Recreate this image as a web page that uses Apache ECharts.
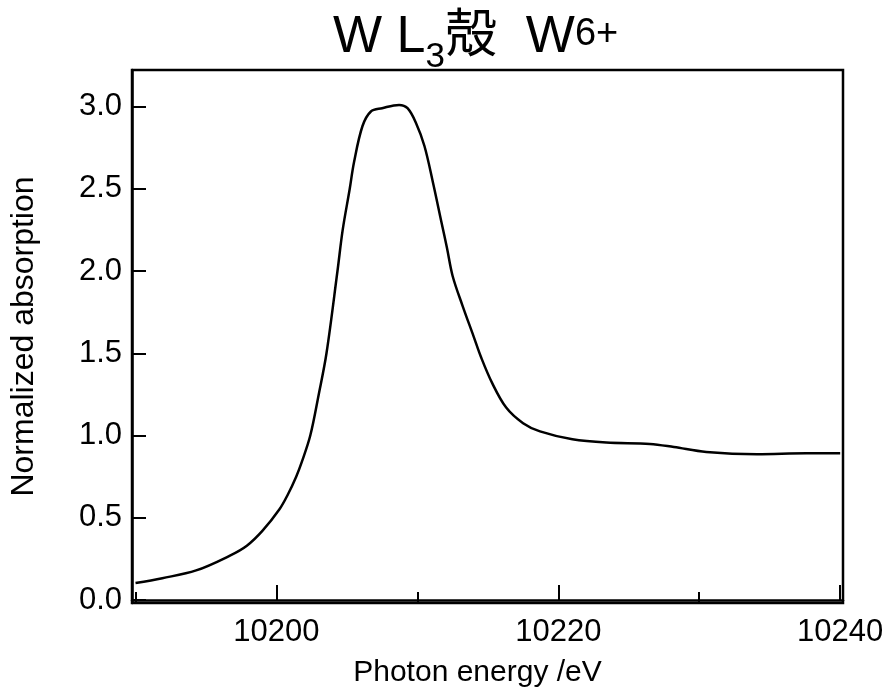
<!DOCTYPE html>
<html><head><meta charset="utf-8">
<script src="https://cdn.jsdelivr.net/npm/echarts@6/dist/echarts.min.js"></script>
<style>html,body{margin:0;padding:0;background:#fff}#c{width:889px;height:693px}</style>
</head><body><div id="c"></div>
<script>
const energy = [10190.0,10191.9,10194.3,10196.7,10197.9,10199.0,10200.2,10200.8,10201.4,10201.8,10202.4,10203.0,10203.55,10204.33,10204.7,10205.2,10205.5,10206.1,10206.7,10207.5,10208.7,10209.3,10209.9,10210.5,10211.1,10211.7,10212.1,10212.5,10213.2,10214.0,10214.5,10215.3,10216.3,10217.5,10218.7,10221.0,10223.4,10226.5,10228.2,10230.5,10234.1,10237.6,10240.0];
const absorption = [0.103,0.133,0.18,0.27,0.33,0.42,0.55,0.64,0.75,0.84,1.0,1.25,1.5,2.0,2.25,2.5,2.66,2.88,2.97,2.99,3.01,2.99,2.90,2.76,2.54,2.30,2.14,1.97,1.79,1.60,1.48,1.32,1.17,1.075,1.025,0.977,0.957,0.949,0.93,0.90,0.886,0.892,0.892];
const xMajorTicks = [10200,10220,10240];
const xMinorTicks = [10190,10210,10230];
const yTicks = [0,0.5,1.0,1.5,2.0,2.5,3.0];

const FONT = '"Liberation Sans", Arial, "Noto Sans CJK JP", sans-serif';
const chart = echarts.init(document.getElementById('c'), null, {renderer:'canvas'});
const xBase = {type:'value', min:10189.75, max:10240.2, position:'bottom', splitLine:{show:false}};
chart.setOption({
  animation:false,
  backgroundColor:'#fff',
  title:{
    left:328, top:3,
    text:'{a|W L}{sub|3}{a|殻  W}{sup|6+}',
    textStyle:{
      rich:{
        a:{fontFamily:FONT, fontSize:52, fontWeight:'normal', color:'#000', lineHeight:60},
        sub:{fontFamily:FONT, fontSize:35, fontWeight:'normal', color:'#000', padding:[38,0,0,0], lineHeight:35},
        sup:{fontFamily:FONT, fontSize:38, fontWeight:'normal', color:'#000', padding:[0,0,6,0], lineHeight:38}
      }
    }
  },
  grid:{left:132, right:46, top:70, bottom:88, show:true, borderColor:'#000', borderWidth:2.5, containLabel:false},
  xAxis:[
    Object.assign({}, xBase, {
      name:'Photon energy /eV', nameLocation:'middle', nameGap:55,
      nameTextStyle:{fontFamily:FONT, fontSize:30, color:'#000', padding:[0,20,0,0]},
      axisLine:{show:true, lineStyle:{color:'#000', width:2.5}},
      axisTick:{show:true, inside:true, length:15, lineStyle:{color:'#000', width:2}, customValues:xMajorTicks},
      axisLabel:{fontFamily:FONT, fontSize:31, color:'#000', margin:14, customValues:xMajorTicks, formatter:v=>String(v), showMinLabel:true, showMaxLabel:true}
    }),
    Object.assign({}, xBase, {
      axisLine:{show:false},
      axisTick:{show:true, inside:true, length:11, lineStyle:{color:'#000', width:2}, customValues:xMinorTicks},
      axisLabel:{show:false}
    })
  ],
  yAxis:{
    type:'value', min:-0.018, max:3.222,
    name:'Normalized absorption', nameLocation:'middle', nameGap:92,
    nameTextStyle:{fontFamily:FONT, fontSize:32, color:'#000'},
    splitLine:{show:false},
    axisLine:{show:true, lineStyle:{color:'#000', width:2.5}},
    axisTick:{show:true, inside:true, length:14, lineStyle:{color:'#000', width:2}, customValues:yTicks},
    axisLabel:{fontFamily:FONT, fontSize:31, color:'#000', margin:10, customValues:yTicks, formatter:v=>v.toFixed(1)}
  },
  series:[{
    type:'line', xAxisIndex:0, showSymbol:false, smooth:0.35,
    lineStyle:{color:'#000', width:2.5},
    data: energy.map((e,i)=>[e, absorption[i]])
  }]
});
</script></body></html>
